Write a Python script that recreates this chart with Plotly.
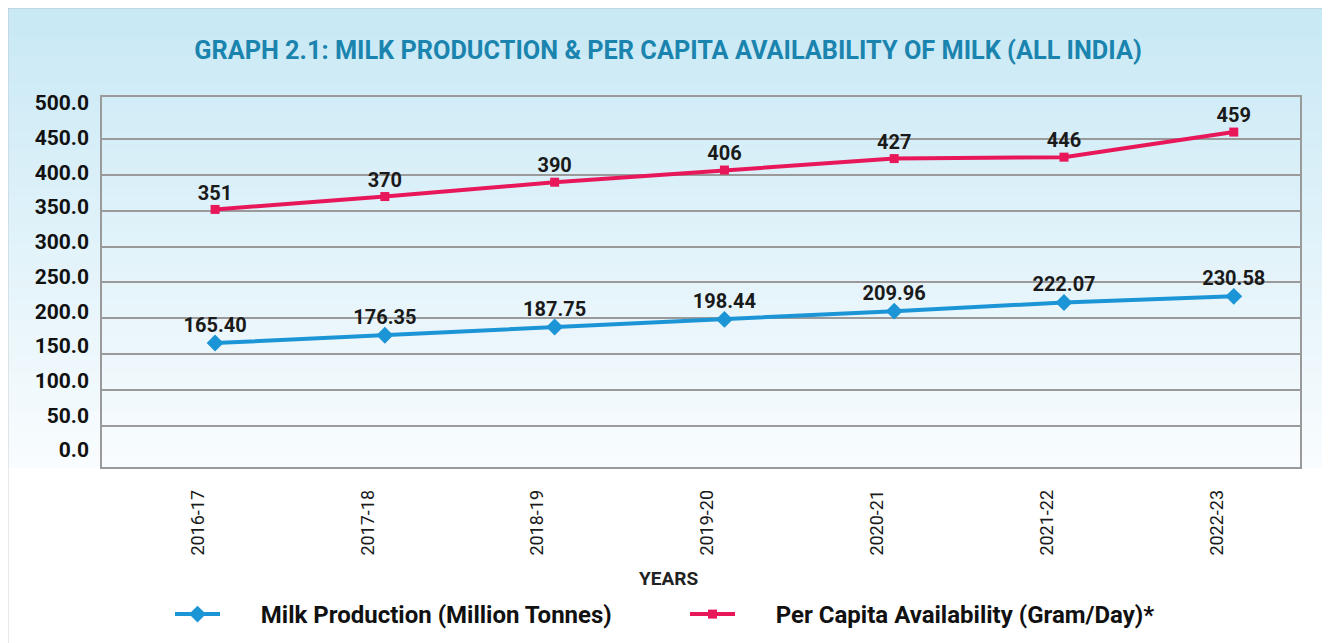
import plotly.graph_objects as go

years = ["2016-17", "2017-18", "2018-19", "2019-20", "2020-21", "2021-22", "2022-23"]
milk_production = [165.40, 176.35, 187.75, 198.44, 209.96, 222.07, 230.58]
milk_labels = ["165.40", "176.35", "187.75", "198.44", "209.96", "222.07", "230.58"]
# per-capita points as drawn in the picture (labels give the stated figures)
per_capita = [352, 370, 390, 407, 423, 425, 460]
capita_labels = ["351", "370", "390", "406", "427", "446", "459"]
y_ticks = [0, 50, 100, 150, 200, 250, 300, 350, 400, 450, 500]
y_tick_text = ["0.0", "50.0", "100.0", "150.0", "200.0", "250.0", "300.0", "350.0", "400.0", "450.0", "500.0"]
grid_vals = [50, 100, 150, 200, 250, 300, 350, 400, 450]

# page body adds an 8px margin; lay the figure out in reference pixel coords
OFF = 8
W, H = 1330 - OFF, 643 - OFF
PL, PR, PT, PB = 102, 1300, 97, 467          # plot box in reference pixels
L, T = PL - OFF, PT - OFF
R, B = W - (PR - OFF), H - (PB - OFF)
PW, PH = PR - PL, PB - PT

def px_x(X):
    return (X - PL) / PW

def px_y(Y):
    return (PB - Y) / PH

FONT = "Roboto"
BLUE = "#1b95d6"
RED = "#e8175a"
GAP = "\u00a0" * 6
LABEL_FONT = dict(family=FONT, size=20, color="#1a1a1a", weight="bold")

fig = go.Figure()

fig.add_trace(go.Scatter(
    x=years, y=milk_production, mode="lines+markers",
    name=GAP + "Milk Production (Million Tonnes)",
    line=dict(color=BLUE, width=4),
    marker=dict(symbol="diamond", size=13, color=BLUE),
    cliponaxis=False,
))
fig.add_trace(go.Scatter(
    x=years, y=per_capita, mode="lines+markers",
    name=GAP + "Per Capita Availability (Gram/Day)*",
    line=dict(color=RED, width=4),
    marker=dict(symbol="square", size=9, color=RED),
    cliponaxis=False,
))
# value labels
fig.add_trace(go.Scatter(
    x=years, y=milk_production, mode="markers+text", showlegend=False, hoverinfo="skip",
    marker=dict(size=8, opacity=0), text=milk_labels, textposition="top center",
    textfont=LABEL_FONT, cliponaxis=False,
))
fig.add_trace(go.Scatter(
    x=years, y=per_capita, mode="markers+text", showlegend=False, hoverinfo="skip",
    marker=dict(size=6, opacity=0), text=capita_labels, textposition="top center",
    textfont=LABEL_FONT, cliponaxis=False,
))
# invisible trace carrying the tick-label axis
fig.add_trace(go.Scatter(
    x=[years[0], years[-1]], y=[y_ticks[0], y_ticks[-1]], yaxis="y2",
    mode="markers", marker=dict(opacity=0), showlegend=False, hoverinfo="skip",
))

# background gradient (top of frame to bottom of plot), white below, grey frame
shapes = []
n = 50
top_c = (199, 232, 245)
bot_c = (249, 252, 254)
g0, g1 = 0, PB
for i in range(n):
    a = g0 + (g1 - g0) * i / n
    b = g0 + (g1 - g0) * (i + 1) / n
    f = (i + 0.5) / n
    c = tuple(int(round(top_c[k] + (bot_c[k] - top_c[k]) * f)) for k in range(3))
    shapes.append(dict(type="rect", xref="paper", yref="paper",
                       x0=px_x(0), x1=px_x(1340), y0=px_y(b + 0.6), y1=px_y(a),
                       line=dict(width=0), fillcolor="rgb(%d,%d,%d)" % c, layer="below"))
shapes.append(dict(type="rect", xref="paper", yref="paper",
                   x0=px_x(7), x1=px_x(1328), y0=px_y(660), y1=px_y(7),
                   line=dict(color="#a9a9a9", width=2.5), fillcolor="rgba(0,0,0,0)", layer="below"))

fig.update_layout(
    width=W, height=H,
    margin=dict(l=L, r=R, t=T, b=B, autoexpand=False),
    paper_bgcolor="white", plot_bgcolor="rgba(0,0,0,0)",
    shapes=shapes,
    title=dict(text="GRAPH 2.1: MILK PRODUCTION & PER CAPITA AVAILABILITY OF MILK (ALL INDIA)",
               x=(668 - OFF) / W, xanchor="center", y=1 - (50 - OFF) / H, yanchor="middle",
               font=dict(family=FONT, size=25.3, color="#1a84ae", weight="bold")),
    xaxis=dict(type="category", range=[-0.666, 6.39], showgrid=False,
               showline=True, linecolor="#9a9a9a", linewidth=1.5, mirror=True,
               tickangle=-90, ticks="", ticklabelshift=-17, ticklabelstandoff=14,
               tickfont=dict(family=FONT, size=18, color="#1a1a1a")),
    yaxis=dict(range=[-7.7, 509], tickvals=grid_vals, showticklabels=False,
               showgrid=True, gridcolor="#9a9a9a", gridwidth=1.5, zeroline=False,
               showline=True, linecolor="#9a9a9a", linewidth=1.5, mirror=True),
    yaxis2=dict(range=[0, 500], domain=[px_y(450), px_y(103)], anchor="x",
                tickvals=y_ticks, ticktext=y_tick_text, showgrid=False, zeroline=False,
                showline=False, ticks="", ticklabelstandoff=12, automargin=False,
                tickfont=dict(family=FONT, size=21, color="#111111", weight="bold")),
    legend=dict(orientation="h", x=px_x(170), y=px_y(592), xanchor="left", yanchor="top",
                entrywidth=455, entrywidthmode="pixels", itemwidth=45,
                bgcolor="rgba(0,0,0,0)",
                font=dict(family=FONT, size=24, color="#111111", weight="bold")),
    annotations=[dict(text="YEARS", xref="paper", yref="paper", x=px_x(668), y=px_y(578),
                      xanchor="center", yanchor="middle", showarrow=False,
                      font=dict(family=FONT, size=19, color="#222222", weight="bold"))],
    showlegend=True,
)

fig.write_html("out.html")
